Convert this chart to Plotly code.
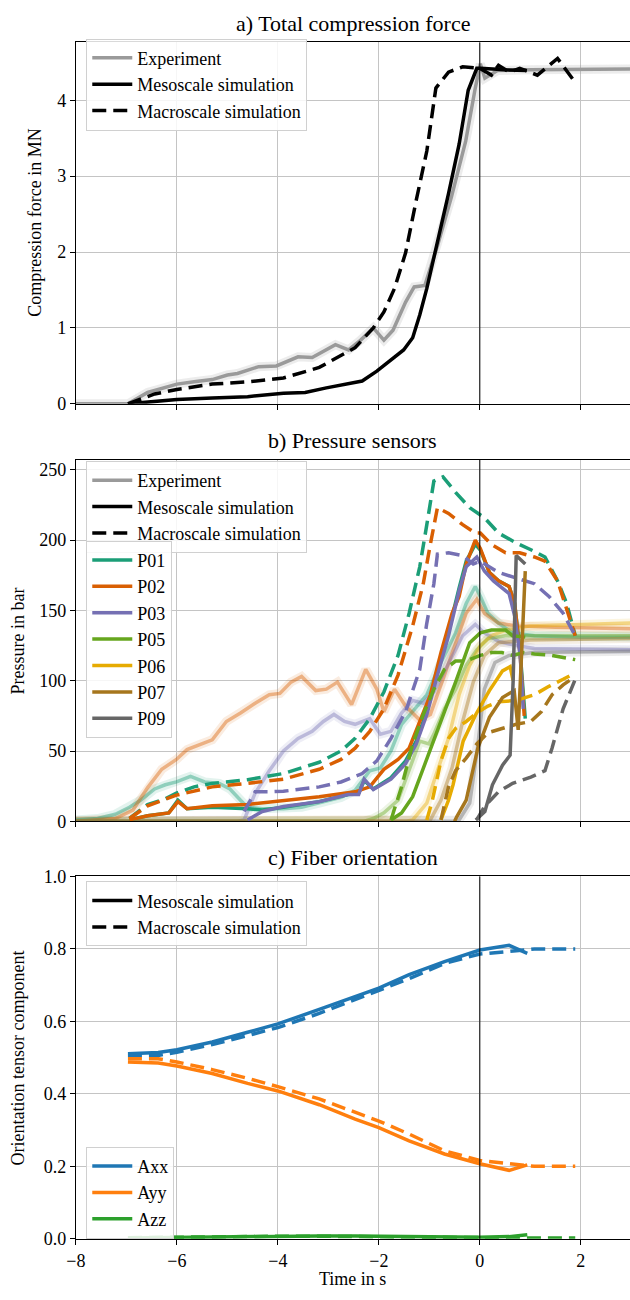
import plotly.graph_objects as go

FONT = "Liberation Serif, Times New Roman, Times, DejaVu Serif, serif"

# ---------------- Panel a: total compression force (MN) ----------------
A_EXP_T = [-8, -6.97, -6.58, -6.0, -5.66, -5.3, -5.0, -4.8, -4.38, -4.03, -3.6, -3.32, -2.86, -2.6, -2.36,
           -2.11, -1.9, -1.72, -1.47, -1.3, -1.09, -0.84, -0.56, -0.28, -0.09, 0.01, 0.1, 0.35, 1.0, 2.0, 3.0]
A_EXP_F = [0, 0, 0.15, 0.26, 0.29, 0.32, 0.38, 0.40, 0.49, 0.50, 0.62, 0.61, 0.78, 0.71, 0.84,
           1.0, 0.84, 0.97, 1.34, 1.54, 1.56, 2.08, 2.73, 3.46, 4.16, 4.48, 4.29, 4.39, 4.40, 4.41, 4.41]
A_MESO_T = [-6.97, -6.0, -5.3, -4.6, -3.89, -3.46, -3.04, -2.6, -2.33, -2.04, -1.76, -1.51, -1.33, -1.19,
            -1.05, -0.84, -0.62, -0.41, -0.23, -0.06, 0.01, 0.5, 0.93]
A_MESO_F = [0, 0.056, 0.078, 0.095, 0.14, 0.15, 0.21, 0.27, 0.30, 0.43, 0.58, 0.71, 0.87, 1.17,
            1.52, 2.12, 2.77, 3.42, 4.13, 4.42, 4.42, 4.40, 4.39]
A_MACRO_T = [-6.97, -6.44, -6.0, -5.3, -4.6, -3.89, -3.18, -2.47, -2.11, -1.9, -1.69, -1.47, -1.26, -1.05,
             -0.87, -0.62, -0.34, 0.0, 0.23, 0.37, 0.58, 0.79, 1.14, 1.54, 1.86]
A_MACRO_F = [0, 0.13, 0.19, 0.26, 0.29, 0.34, 0.48, 0.74, 1.0, 1.21, 1.52, 1.99, 2.68, 3.33,
             4.16, 4.37, 4.44, 4.42, 4.33, 4.46, 4.37, 4.42, 4.33, 4.55, 4.26]

# ---------------- Panel b: pressure sensors (bar) ----------------
SENSORS = ["P01", "P02", "P03", "P05", "P06", "P07", "P09"]
SENSOR_COLORS = ["#1b9e77", "#d95f02", "#7570b3", "#66a61e", "#e6ab02", "#a6761d", "#666666"]

P01_EXP_T = [-8, -7.57, -7.22, -6.94, -6.72, -6.44, -6.23, -6.01, -5.73, -5.45, -5.16, -4.95, -4.74, -4.6,
             -4.31, -3.89, -3.53, -3.18, -2.75, -2.47, -2.18, -1.97, -1.76, -1.55, -1.33, -1.05, -0.77,
             -0.48, -0.27, -0.09, 0.01, 0.16, 0.37, 0.65, 1.08, 2.0, 3.0]
P01_EXP_V = [1, 2, 5, 10, 15, 23, 26, 28, 32, 28, 27, 23, 15, 10, 9, 9, 10, 13, 17, 22, 36, 38, 50, 69,
             78, 90, 113, 134, 155, 167, 160, 148, 141, 134, 132, 131, 131]
P02_EXP_T = [-8, -7.22, -6.87, -6.58, -6.3, -6.01, -5.8, -5.52, -5.3, -5.02, -4.74, -4.45, -4.17, -3.96,
             -3.74, -3.53, -3.25, -3.04, -2.82, -2.54, -2.26, -2.04, -1.9, -1.69, -1.47, -1.19, -0.98,
             -0.77, -0.48, -0.27, -0.06, 0.09, 0.37, 0.72, 1.5, 3.0]
P02_EXP_V = [0, 2, 8, 24, 37, 44, 51, 55, 58, 71, 77, 84, 90, 91, 99, 103, 93, 94, 99, 83, 108, 94, 78,
             94, 82, 72, 76, 97, 127, 148, 158, 148, 141, 139, 138, 137]
P03_EXP_T = [-8, -4.8, -4.67, -4.45, -4.17, -3.89, -3.6, -3.32, -3.1, -2.89, -2.68, -2.47, -2.18, -1.97,
             -1.76, -1.55, -1.33, -1.12, -0.91, -0.62, -0.34, -0.09, 0.09, 0.37, 0.72, 1.08, 3.0]
P03_EXP_V = [0, 0, 1, 20, 36, 50, 59, 64, 71, 76, 71, 69, 73, 62, 64, 77, 86, 84, 92, 113, 132, 140, 134,
             128, 125, 123, 122]
P05_EXP_T = [-8, -2.3, -2.11, -1.9, -1.62, -1.4, -1.19, -1.01, -0.91, -0.7, -0.48, -0.27, -0.06, 0.16, 0.51, 3.0]
P05_EXP_V = [0, 0, 2, 6, 15, 36, 57, 55, 62, 80, 94, 111, 122, 130, 132, 132]
P06_EXP_T = [-8, -1.45, -1.33, -1.05, -0.84, -0.62, -0.41, -0.2, 0.01, 0.23, 0.51, 1.0, 3.0]
P06_EXP_V = [0, 0, 1, 13, 36, 59, 90, 111, 125, 132, 136, 139, 141]
P07_EXP_T = [-8, -1.1, -0.98, -0.77, -0.55, -0.34, -0.13, 0.09, 0.37, 1.0, 3.0]
P07_EXP_V = [0, 0, 1, 15, 38, 71, 99, 118, 127, 129, 130]
P09_EXP_T = [-8, -0.5, -0.41, -0.2, -0.06, 0.09, 0.3, 0.58, 1.08, 3.0]
P09_EXP_V = [0, 0, 1, 13, 48, 94, 113, 118, 120, 121]

P01_MESO_T = [-6.94, -6.58, -6.16, -5.98, -5.8, -5.3, -4.6, -4.31, -3.89, -3.18, -2.61, -2.4, -2.29, -2.11,
              -1.76, -1.47, -1.26, -1.05, -0.84, -0.62, -0.41, -0.27, -0.09, 0.01, 0.19, 0.37, 0.58, 0.69,
              0.8, 0.9]
P01_MESO_V = [1, 4, 6, 15, 9, 10, 9, 8, 10, 14, 19, 20, 29, 23, 31, 43, 57, 78, 106, 135, 166, 185, 197,
              193, 177, 171, 167, 155, 120, 73]
P02_MESO_T = [-6.94, -6.58, -6.16, -5.98, -5.8, -5.3, -4.6, -3.89, -3.18, -2.47, -2.18, -1.9, -1.62, -1.4,
              -1.19, -0.98, -0.77, -0.55, -0.41, -0.27, -0.09, 0.01, 0.19, 0.37, 0.58, 0.69, 0.8, 0.88]
P02_MESO_V = [1, 4, 6, 14, 9, 11, 12, 14.5, 17.5, 21, 24.5, 37, 44, 52, 71, 90, 120, 148, 160, 183, 200,
              194, 177, 171, 167, 155, 118, 75]
P03_MESO_T = [-4.6, -4.31, -3.89, -3.18, -2.61, -2.4, -2.29, -2.11, -1.76, -1.47, -1.26, -1.05, -0.84,
              -0.62, -0.41, -0.27, -0.06, 0.09, 0.27, 0.58, 0.69, 0.8, 0.86]
P03_MESO_V = [1, 7, 10.5, 14, 19, 19, 30, 22.6, 30, 41, 55, 76, 104, 132, 164, 181, 188, 178, 171, 162,
              146, 118, 80]
P05_MESO_T = [-1.76, -1.55, -1.33, -1.12, -0.91, -0.7, -0.48, -0.34, -0.2, 0.01, 0.23, 0.51, 0.65, 0.9]
P05_MESO_V = [1, 6, 17.5, 38, 59, 78, 99, 113, 127, 134, 136, 136, 132, 131]
P06_MESO_T = [-0.77, -0.62, -0.53, -0.33, -0.08, 0.19, 0.45, 0.6, 0.66]
P06_MESO_V = [1, 15, 26, 57, 76, 93, 107, 110, 100]
P07_MESO_T = [-0.5, -0.46, -0.27, -0.14, -0.04, 0.19, 0.45, 0.68, 0.76, 0.9]
P07_MESO_V = [0, 3, 15, 36, 52, 74, 88, 93, 65, 178]
P09_MESO_T = [-0.08, 0.1, 0.25, 0.45, 0.6, 0.66, 0.72, 0.9]
P09_MESO_V = [1, 7, 26, 40, 47, 100, 189, 183]

P01_MACRO_T = [-6.94, -6.58, -6.23, -6.01, -5.66, -5.3, -4.6, -3.89, -3.18, -2.75, -2.47, -2.18, -1.9,
               -1.62, -1.4, -1.19, -1.05, -0.91, -0.73, -0.48, -0.2, 0.09, 0.37, 0.72, 1.08, 1.29, 1.54,
               1.72, 1.89]
P01_MACRO_V = [2, 12, 16, 20, 24.5, 27, 29.6, 34, 42, 50, 59, 73, 92, 118, 148, 181, 211, 242, 245, 234,
               223, 216, 205, 198, 192, 188, 171, 155, 132]
P02_MACRO_T = [-6.94, -6.58, -6.01, -5.3, -4.6, -3.89, -3.18, -2.75, -2.47, -2.18, -1.9, -1.62, -1.33,
               -1.12, -0.98, -0.84, -0.62, -0.34, -0.09, 0.01, 0.23, 0.51, 0.79, 1.08, 1.29, 1.54, 1.89]
P02_MACRO_V = [2, 11, 18.6, 24.5, 27, 30, 37, 44, 52, 64, 80, 104, 139, 169, 197, 223, 219, 211, 205,
               205, 197, 191, 191, 188, 185, 171, 132]
P03_MACRO_T = [-4.67, -4.45, -4.17, -3.89, -3.18, -2.75, -2.33, -2.04, -1.76, -1.47, -1.19, -1.05, -0.91,
               -0.84, -0.62, -0.34, -0.13, 0.01, 0.37, 0.79, 1.08, 1.37, 1.65, 1.89]
P03_MACRO_V = [7, 21, 21, 21.4, 24.5, 28, 34, 43, 59, 78, 108, 141, 169, 190, 191, 189, 183, 185, 177,
               172, 169, 160, 148, 132]
P05_MACRO_T = [-1.76, -1.55, -1.33, -1.12, -0.91, -0.7, -0.48, -0.27, 0.01, 0.23, 0.44, 0.65, 0.87, 1.08,
               1.43, 1.89]
P05_MACRO_V = [1, 24.5, 55, 76, 94, 108, 114, 114, 118, 120, 120, 118, 120, 119, 118, 115]
P06_MACRO_T = [-1.05, -0.94, -0.77, -0.62, -0.48, -0.27, -0.06, 0.16, 0.37, 0.72, 1.08, 1.37, 1.65, 1.86]
P06_MACRO_V = [1, 15, 43, 59, 66, 71, 77, 82, 85, 86, 90, 96, 101, 105]
P07_MACRO_T = [-0.77, -0.62, -0.48, -0.27, -0.06, 0.16, 0.44, 0.72, 1.01, 1.22, 1.43, 1.65, 1.89]
P07_MACRO_V = [1, 24.5, 36, 45, 55, 63, 66, 69, 71, 78, 90, 97, 103]
P09_MACRO_T = [-0.06, 0.09, 0.37, 0.65, 1.01, 1.29, 1.43, 1.65, 1.89]
P09_MACRO_V = [1, 10.5, 21, 27, 31.5, 36, 52, 80, 101]

# ---------------- Panel c: fiber orientation ----------------
C_MESO_T = [-6.97, -6.37, -6.0, -5.3, -4.6, -4.0, -3.18, -2.47, -2.0, -1.4, -0.7, 0.0, 0.58, 0.94]
AXX_MESO = [0.511, 0.514, 0.522, 0.543, 0.570, 0.593, 0.633, 0.670, 0.692, 0.729, 0.765, 0.797, 0.810, 0.788]
AYY_MESO = [0.488, 0.485, 0.477, 0.456, 0.429, 0.408, 0.370, 0.330, 0.307, 0.270, 0.234, 0.207, 0.189, 0.204]
AZZ_MESO = [0.002, 0.003, 0.004, 0.006, 0.007, 0.008, 0.008, 0.008, 0.007, 0.006, 0.005, 0.004, 0.006, 0.011]
C_MACRO_T = [-6.97, -6.37, -6.0, -5.3, -4.6, -4.0, -3.18, -2.47, -2.0, -1.4, -0.7, 0.0, 0.72, 1.08, 1.89]
AXX_MACRO = [0.506, 0.506, 0.515, 0.536, 0.561, 0.583, 0.622, 0.661, 0.685, 0.718, 0.760, 0.786, 0.795, 0.800, 0.800]
AYY_MACRO = [0.497, 0.497, 0.488, 0.467, 0.443, 0.420, 0.386, 0.348, 0.325, 0.289, 0.243, 0.216, 0.204, 0.200, 0.200]
AZZ_MACRO = [0.003, 0.004, 0.004, 0.006, 0.006, 0.007, 0.007, 0.006, 0.005, 0.005, 0.004, 0.003, 0.002, 0.002, 0.002]
COMPONENTS = ["Axx", "Ayy", "Azz"]
COMP_COLORS = ["#1f77b4", "#ff7f0e", "#2ca02c"]

X_TICKS = [-8, -6, -4, -2, 0, 2]

# ---------------- styling constants ----------------
W, H = 630, 1300
LEFT_PX = 67
PANELS_PX = [(33, 400), (457, 824), (880, 1248)]
LW = 3.5
DASH = "14px,7px"
GRID = "#c4c4c4"


def rgba(hexc, a):
    h = hexc.lstrip("#")
    r, g, b = int(h[0:2], 16), int(h[2:4], 16), int(h[4:6], 16)
    return f"rgba({r},{g},{b},{a})"


fig = go.Figure()


def add_line(x, y, color, xa, ya, dash=None, width=LW, name=None, legend=None, showlegend=False):
    fig.add_trace(go.Scatter(
        x=x, y=y, mode="lines", xaxis=xa, yaxis=ya,
        line=dict(color=color, width=width, dash=dash),
        name=name, legend=legend, showlegend=showlegend, hoverinfo="skip"))


# ---- panel a ----
add_line(A_EXP_T, A_EXP_F, "rgba(150,150,150,0.18)", "x", "y", width=9)
add_line(A_EXP_T, A_EXP_F, "#9a9a9a", "x", "y")
add_line(A_MESO_T, A_MESO_F, "black", "x", "y")
add_line(A_MACRO_T, A_MACRO_F, "black", "x", "y", dash=DASH)

add_line([None], [None], "#9a9a9a", "x", "y", name="Experiment", legend="legend", showlegend=True)
add_line([None], [None], "black", "x", "y", name="Mesoscale simulation", legend="legend", showlegend=True)
add_line([None], [None], "black", "x", "y", dash=DASH, name="Macroscale simulation", legend="legend", showlegend=True)

# ---- panel b ----
EXP_T = [P01_EXP_T, P02_EXP_T, P03_EXP_T, P05_EXP_T, P06_EXP_T, P07_EXP_T, P09_EXP_T]
EXP_V = [P01_EXP_V, P02_EXP_V, P03_EXP_V, P05_EXP_V, P06_EXP_V, P07_EXP_V, P09_EXP_V]
MESO_T = [P01_MESO_T, P02_MESO_T, P03_MESO_T, P05_MESO_T, P06_MESO_T, P07_MESO_T, P09_MESO_T]
MESO_V = [P01_MESO_V, P02_MESO_V, P03_MESO_V, P05_MESO_V, P06_MESO_V, P07_MESO_V, P09_MESO_V]
MACRO_T = [P01_MACRO_T, P02_MACRO_T, P03_MACRO_T, P05_MACRO_T, P06_MACRO_T, P07_MACRO_T, P09_MACRO_T]
MACRO_V = [P01_MACRO_V, P02_MACRO_V, P03_MACRO_V, P05_MACRO_V, P06_MACRO_V, P07_MACRO_V, P09_MACRO_V]

for t, v, c in zip(EXP_T, EXP_V, SENSOR_COLORS):
    add_line(t, v, rgba(c, 0.12), "x2", "y2", width=9)
for t, v, c in zip(EXP_T, EXP_V, SENSOR_COLORS):
    add_line(t, v, rgba(c, 0.42), "x2", "y2")
for i, c in enumerate(SENSOR_COLORS):
    add_line(MESO_T[i], MESO_V[i], c, "x2", "y2")
    add_line(MACRO_T[i], MACRO_V[i], c, "x2", "y2", dash=DASH)

add_line([None], [None], "#9a9a9a", "x2", "y2", name="Experiment", legend="legend2", showlegend=True)
add_line([None], [None], "black", "x2", "y2", name="Mesoscale simulation", legend="legend2", showlegend=True)
add_line([None], [None], "black", "x2", "y2", dash=DASH, name="Macroscale simulation", legend="legend2", showlegend=True)
for s, c in zip(SENSORS, SENSOR_COLORS):
    add_line([None], [None], c, "x2", "y2", name=s, legend="legend3", showlegend=True)

# ---- panel c ----
MESO_C = [AXX_MESO, AYY_MESO, AZZ_MESO]
MACRO_C = [AXX_MACRO, AYY_MACRO, AZZ_MACRO]
for vals, c in zip(MESO_C, COMP_COLORS):
    add_line(C_MESO_T, vals, c, "x3", "y3")
for vals, c in zip(MACRO_C, COMP_COLORS):
    add_line(C_MACRO_T, vals, c, "x3", "y3", dash=DASH)

add_line([None], [None], "black", "x3", "y3", name="Mesoscale simulation", legend="legend4", showlegend=True)
add_line([None], [None], "black", "x3", "y3", dash=DASH, name="Macroscale simulation", legend="legend4", showlegend=True)
for n, c in zip(COMPONENTS, COMP_COLORS):
    add_line([None], [None], c, "x3", "y3", name=n, legend="legend5", showlegend=True)


# ---------------- axes ----------------
def py(px):
    return 1 - px / H


x_end = -8 + (W - LEFT_PX) / 51.3
tickfont = dict(family=FONT, size=18, color="black")
common_x = dict(range=[-8, x_end], tickvals=X_TICKS, ticks="outside", ticklen=5, tickwidth=1,
                tickcolor="black", showgrid=True, gridcolor=GRID, gridwidth=1, showline=True,
                linecolor="black", linewidth=1.2, mirror=True, zeroline=False,
                domain=[LEFT_PX / W, 1], tickfont=tickfont, ticklabelstandoff=0)
common_y = dict(ticks="outside", ticklen=5, tickwidth=1, tickcolor="black", showgrid=True,
                gridcolor=GRID, gridwidth=1, showline=True, linecolor="black", linewidth=1.2,
                mirror=False, zeroline=False, tickfont=tickfont, ticklabelstandoff=0)

fig.update_layout(
    xaxis=dict(common_x, anchor="y", showticklabels=False),
    xaxis2=dict(common_x, anchor="y2", showticklabels=False),
    xaxis3=dict(common_x, anchor="y3", showticklabels=True),
    yaxis=dict(common_y, anchor="x", domain=[py(PANELS_PX[0][1]), py(PANELS_PX[0][0])],
               range=[0, 4.76], tickvals=[0, 1, 2, 3, 4]),
    yaxis2=dict(common_y, anchor="x2", domain=[py(PANELS_PX[1][1]), py(PANELS_PX[1][0])],
                range=[0, 257], tickvals=[0, 50, 100, 150, 200, 250]),
    yaxis3=dict(common_y, anchor="x3", domain=[py(PANELS_PX[2][1]), py(PANELS_PX[2][0])],
                range=[0, 1], tickvals=[0, 0.2, 0.4, 0.6, 0.8, 1.0], tickformat=".1f"),
)

for xr, yr in [("x", "y"), ("x2", "y2"), ("x3", "y3")]:
    fig.add_shape(type="line", xref=xr, yref=yr + " domain", x0=0, x1=0, y0=0, y1=1,
                  line=dict(color="black", width=1), layer="above")

# ---------------- legends ----------------
leg_common = dict(font=dict(family=FONT, size=18, color="black"), bgcolor="rgba(255,255,255,0.85)",
                  bordercolor="#d0d0d0", borderwidth=1, xanchor="left", itemwidth=40,
                  tracegroupgap=0, traceorder="normal")
lx = 77.5 / W
fig.update_layout(
    legend=dict(leg_common, x=lx, y=py(29), yanchor="top"),
    legend2=dict(leg_common, x=lx, y=py(458), yanchor="top"),
    legend3=dict(leg_common, x=lx, y=py(539), yanchor="top"),
    legend4=dict(leg_common, x=lx, y=py(885), yanchor="top"),
    legend5=dict(leg_common, x=lx, y=py(1248), yanchor="bottom"),
)

# ---------------- titles & labels ----------------
cx = (LEFT_PX + W) / 2 / W
titles = ["a) Total compression force", "b) Pressure sensors", "c) Fiber orientation"]
for txt, (top, bot) in zip(titles, PANELS_PX):
    fig.add_annotation(text=txt, xref="paper", yref="paper", x=cx, y=py(top - 5),
                       xanchor="center", yanchor="bottom", showarrow=False,
                       font=dict(family=FONT, size=22, color="black"))

ylabels = [("Compression force in MN", 26), ("Pressure in bar", 8), ("Orientation tensor component", 8)]
for (txt, xpx), (top, bot) in zip(ylabels, PANELS_PX):
    fig.add_annotation(text=txt, xref="paper", yref="paper", x=xpx / W, y=py((top + bot) / 2),
                       xanchor="center", yanchor="middle", textangle=-90, showarrow=False,
                       font=dict(family=FONT, size=18, color="black"))

fig.add_annotation(text="Time in s", xref="paper", yref="paper", x=cx, y=0,
                   xanchor="center", yanchor="bottom", showarrow=False, borderpad=0,
                   font=dict(family=FONT, size=18, color="black"))

fig.update_layout(width=W, height=H, margin=dict(l=0, r=0, t=0, b=0),
                  plot_bgcolor="white", paper_bgcolor="white",
                  font=dict(family=FONT, size=18, color="black"))

fig.write_html("out.html")
